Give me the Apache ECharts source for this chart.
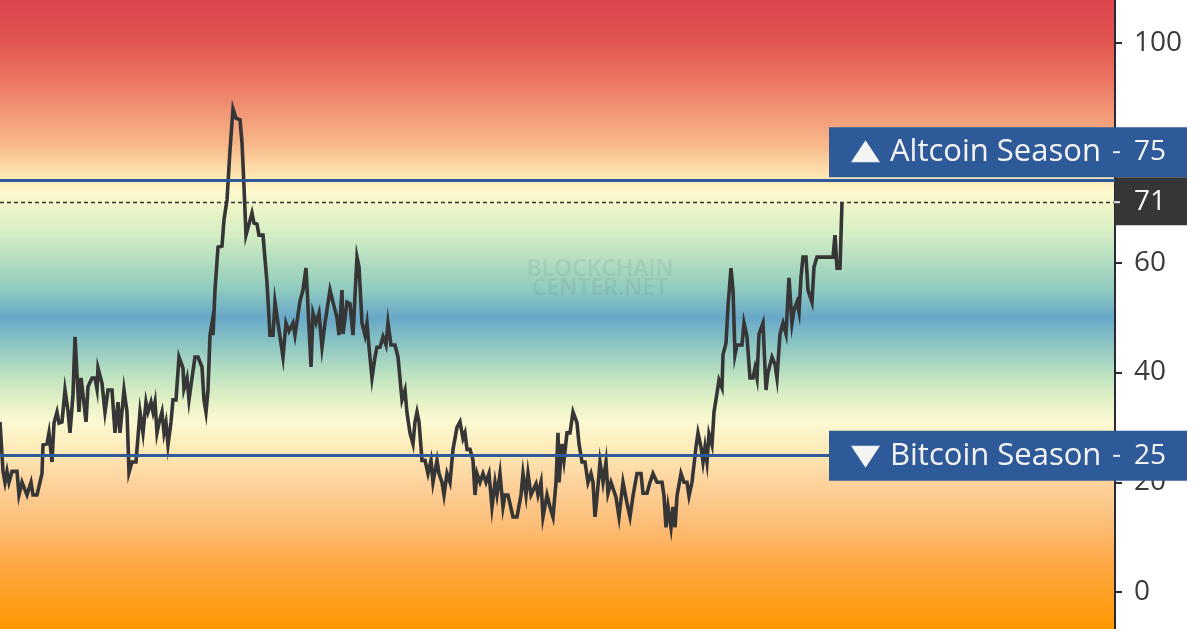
<!DOCTYPE html>
<html><head><meta charset="utf-8">
<script src="https://cdn.jsdelivr.net/npm/echarts@6/dist/echarts.min.js"></script>
<style>html,body{margin:0;padding:0;background:#fff;overflow:hidden}#c{width:1200px;height:629px}</style>
</head><body><div id="c"></div>
<script>
// Day position (time axis, hidden) and Altcoin Season Index values
const days = [0,3,5,7,9,12,17,19,22,24,27,31,33,37,42,43,47,49,51,52,54,57,59,62,65,68,70,73,75,77,79,81,83,86,88,92,95,97,98,102,105,108,112,115,118,120,124,127,129,132,136,140,143,146,148,151,153,155,157,159,162,164,166,168,171,173,176,179,183,184,187,189,192,195,198,202,204,206,208,210,212,213,215,218,222,224,227,230,233,236,240,242,244,246,248,252,254,257,259,263,267,270,273,275,278,283,286,289,293,295,297,300,303,306,308,311,313,316,319,322,325,330,333,337,339,342,343,347,350,353,355,357,359,362,365,367,369,372,375,377,380,383,386,388,391,395,398,402,405,407,410,413,415,417,419,422,425,428,431,433,437,439,442,444,447,450,453,457,460,463,465,467,470,473,475,477,480,483,486,489,492,495,497,500,503,505,508,513,517,521,523,526,528,531,533,536,538,541,543,547,550,553,556,558,559,562,564,567,570,573,577,579,582,585,588,591,593,595,597,600,603,606,608,611,613,616,619,623,625,627,630,633,637,641,643,647,650,653,655,657,662,664,666,668,671,673,675,677,681,684,687,689,692,694,696,698,701,703,705,707,709,712,714,717,719,722,723,726,728,731,733,735,737,742,744,747,750,753,755,757,759,763,766,768,772,775,777,780,783,786,789,792,794,797,799,801,803,806,808,812,814,817,823,830,833,835,837,840,842];
const index = [31,22,20,22,20,22,22,17.7,20,20,17.7,20,17.7,17.7,21.6,26.8,27,29,29,23.7,30.8,32.8,30.8,31,36.8,33,29,36,46.5,46.5,32.8,39,36,31,37.4,39,39,37,40.8,38,32.8,36.8,36.8,29,34.6,29,36.8,32.8,21.8,23.7,23.7,32.8,29,34.6,32.8,34.6,32.8,34.6,29,30.8,32.8,29,30.8,26.8,31,35,35,42.8,40.8,37,39,35,39,42.8,42.8,41,35,32.8,36.8,46.8,49,46.8,55,62.8,63,67.8,71.4,80.5,88,86.3,86,81.8,73.8,65,65,69,67.2,67,65,65,56.3,46.8,46.8,52.8,49,42.8,49,47.5,49,46.8,46.8,53,55,59,52,41,50.8,49,50.8,44.6,49,55,52.8,50,46.8,55,47,52.8,52.5,46.8,46.8,61,59.2,49,46.8,49,44.6,39,42.8,44.6,44.6,46.5,45,49,45,45,42.8,35,36.8,32.6,29,27,31,32.8,31,24,24,21.6,24,20,24,21.6,20,17.7,21.6,20,26,30,31,28,29,26,26,24,17.7,21.6,20,21.6,20,21.6,15.5,20,17.7,21.6,15.5,17.7,17.7,13.7,13.7,17.7,21.6,17.7,21.6,17.7,17.7,19.7,17.7,20,13.7,17.7,15.5,13.7,20,29,20,27,24,29,29,32.8,30.8,27,23.7,23.7,20,21.6,20,13.7,17.3,23.7,20,23.7,18,20,20,17.3,13.7,20,20,16.2,13.7,17.5,21.6,21.6,18,18,20,21.6,21.6,20,20,17.5,11.8,15.5,11.8,15.5,11.8,17.5,21.6,20,20,17.5,20,20,26.4,29,26.4,23.7,26.4,23.7,28.8,26.8,32.8,36.2,38.6,37.2,43.2,45.3,52,59,55,43.2,45,45,49,46.5,39,39,40.8,39,47,49,36.8,40,42.8,41.5,39,47,49,47,57.2,49,51.4,52.8,51,57.4,61,61,55,52.8,59.2,61,61,61,61,65,59,59,71];
const yTicks = [0,20,40,60,80,100];
const altLevel = 75, btcLevel = 25, current = 71;
const altText = 'Altcoin Season', btcText = 'Bitcoin Season';
const yMin = -6.7, yMax = 107.8, xMax = 1115;

// background colour bands keyed by index value
const bands = [[107.8,'#dc444c'],[100,'#e25651'],[93,'#eb7663'],[87,'#f29878'],[81,'#f9bb8b'],[76,'#fde5b2'],[73,'#fcf8cc'],[70,'#eef6c9'],[65,'#d4edc4'],[60,'#b1dcc0'],[55,'#8ecabf'],[50,'#68a8c8'],[46,'#84c0c3'],[40,'#b8e0c0'],[35,'#e3f1c5'],[31,'#fbf9d2'],[27,'#fdeebd'],[20,'#fdd39d'],[12,'#fdbd76'],[5,'#fea743'],[-6.7,'#ff9800']];

const chart = echarts.init(document.getElementById('c'), null, {renderer:'canvas'});
const FONT = '"Open Sans", "DejaVu Sans", sans-serif';
chart.setOption({
  animation:false,
  grid:{left:0,right:85,top:0,bottom:0,show:true,borderWidth:0,
    backgroundColor:new echarts.graphic.LinearGradient(0,0,0,1,
      bands.map(b=>({offset:(yMax-b[0])/(yMax-yMin),color:b[1]})))},
  xAxis:{type:'value',min:0,max:xMax,show:false},
  yAxis:{type:'value',position:'right',min:yMin,max:yMax,
    splitLine:{show:false},
    axisLine:{show:true,onZero:false,lineStyle:{color:'#2a2a36',width:2}},
    axisTick:{show:true,length:7,lineStyle:{color:'#2a2a36',width:2},customValues:yTicks},
    axisLabel:{show:true,customValues:yTicks,fontSize:28,color:'#3a3a3a',fontFamily:FONT,margin:19}},
  series:[{type:'line',data:days.map((d,i)=>[d,index[i]]),showSymbol:false,
    lineStyle:{color:'#363636',width:3.6,join:'miter'},z:3,
    markLine:{silent:true,symbol:'none',label:{show:false},animation:false,
      data:[
        {yAxis:altLevel,lineStyle:{color:'#2f5a9a',width:3,type:'solid'}},
        {yAxis:btcLevel,lineStyle:{color:'#2f5a9a',width:3,type:'solid'}},
        {yAxis:current,lineStyle:{color:'#333',width:1.3,type:[4,3]}}
      ]}}]
});

const yAlt = chart.convertToPixel({yAxisIndex:0}, altLevel);
const yBtc = chart.convertToPixel({yAxisIndex:0}, btcLevel);
const yCur = chart.convertToPixel({yAxisIndex:0}, current);
const axisX = chart.convertToPixel({xAxisIndex:0}, xMax);
const boxL = 829, boxR = axisX + 72;
function badge(cy, label, up, value){
  const els = [];
  els.push({type:'rect',z:100,shape:{x:boxL,y:cy-25,width:boxR-boxL,height:50},style:{fill:'#2f5a9a'}});
  const tx = boxL+22, tw = 29;
  const pts = up ? [[tx,cy+10],[tx+tw,cy+10],[tx+tw/2,cy-12]] : [[tx,cy-10],[tx+tw,cy-10],[tx+tw/2,cy+12]];
  els.push({type:'polygon',z:101,shape:{points:pts},style:{fill:'#f4f4f4'}});
  els.push({type:'text',z:101,x:boxL+61,y:cy,style:{text:label,fill:'#f4f4f4',font:'31px '+FONT,verticalAlign:'middle',align:'left'}});
  els.push({type:'rect',z:101,shape:{x:axisX-2,y:cy-1,width:7,height:2},style:{fill:'#e8e8e8'}});
  els.push({type:'text',z:101,x:axisX+19,y:cy,style:{text:String(value),fill:'#f4f4f4',font:'28px '+FONT,verticalAlign:'middle',align:'left'}});
  return els;
}
const g = [];
g.push(...badge(yAlt-28, altText, true, altLevel));
g.push(...badge(yBtc+1, btcText, false, btcLevel));
g.push({type:'rect',z:100,shape:{x:axisX,y:yCur-25,width:72,height:48},style:{fill:'#363636'}});
g.push({type:'rect',z:101,shape:{x:axisX-1,y:yCur-1,width:6,height:2},style:{fill:'#e8e8e8'}});
g.push({type:'text',z:101,x:axisX+19,y:yCur,style:{text:String(current),fill:'#f4f4f4',font:'28px '+FONT,verticalAlign:'middle',align:'left'}});
// watermark
g.push({type:'text',z:2,x:600,y:269,style:{text:'BLOCKCHAIN',fill:'rgba(70,80,90,0.09)',font:'600 23px '+FONT,align:'center',verticalAlign:'middle'}});
g.push({type:'text',z:2,x:600,y:288,style:{text:'CENTER.NET',fill:'rgba(70,80,90,0.09)',font:'600 23px '+FONT,align:'center',verticalAlign:'middle'}});
chart.setOption({graphic:g});
</script></body></html>
